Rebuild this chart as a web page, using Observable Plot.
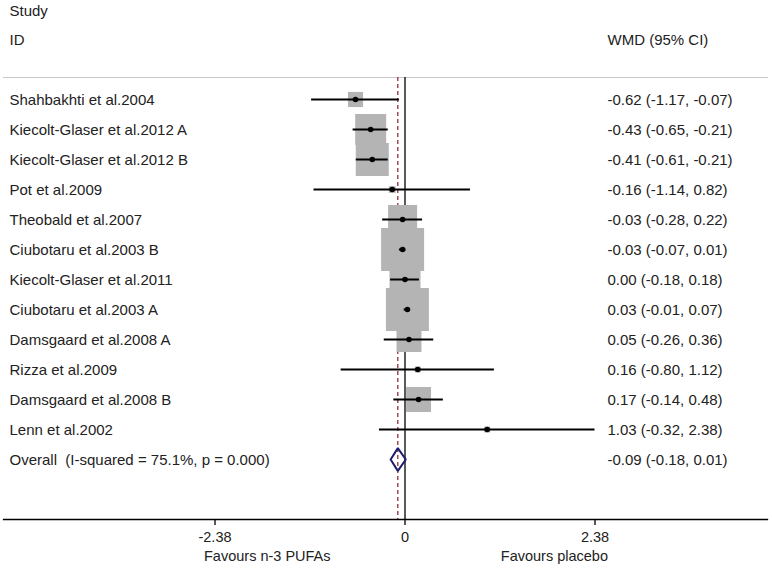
<!DOCTYPE html>
<html><head><meta charset="utf-8">
<script src="https://cdn.jsdelivr.net/npm/d3@7"></script>
<script src="https://cdn.jsdelivr.net/npm/@observablehq/plot@0.6"></script>
<style>
body{margin:0;background:#fff;font-family:"Liberation Sans",Arial,sans-serif}
#chart svg{display:block}
</style>
</head><body><div id="chart"></div>
<script>
const studies = [
  "Shahbakhti et al.2004",
  "Kiecolt-Glaser et al.2012 A",
  "Kiecolt-Glaser et al.2012 B",
  "Pot et al.2009",
  "Theobald et al.2007",
  "Ciubotaru et al.2003 B",
  "Kiecolt-Glaser et al.2011",
  "Ciubotaru et al.2003 A",
  "Damsgaard et al.2008 A",
  "Rizza et al.2009",
  "Damsgaard et al.2008 B",
  "Lenn et al.2002"
];
const wmd    = [-0.62, -0.43, -0.41, -0.16, -0.03, -0.03, 0.00, 0.03, 0.05, 0.16, 0.17, 1.03];
const lower  = [-1.17, -0.65, -0.61, -1.14, -0.28, -0.07, -0.18, -0.01, -0.26, -0.80, -0.14, -0.32];
const upper  = [-0.07, -0.21, -0.21, 0.82, 0.22, 0.01, 0.18, 0.07, 0.36, 1.12, 0.48, 2.38];
const weights = [2.5, 10.5, 11.9, 0.5, 9.2, 20.2, 10.5, 20.2, 6.8, 0.4, 6.8, 0.4];
const overallLabel = "Overall\u00a0\u00a0(I-squared = 75.1%, p = 0.000)";
const overallEst = -0.09, overallLower = -0.18, overallUpper = 0.01;
const xTicks = [-2.38, 0, 2.38];
const headerStudy = "Study", headerID = "ID", headerCI = "WMD (95% CI)";
const favourLeft = "Favours n-3 PUFAs", favourRight = "Favours placebo";

const f2 = v => v.toFixed(2);
const rows = studies.map((s, i) => ({
  row: i, study: s, est: wmd[i], lo: lower[i], hi: upper[i], w: weights[i],
  ci: `${f2(wmd[i])} (${f2(lower[i])}, ${f2(upper[i])})`
}));
const oRow = studies.length;
const labelRows = [...rows, {row: oRow, study: overallLabel,
  ci: `${f2(overallEst)} (${f2(overallLower)}, ${f2(overallUpper)})`}];
const dh = 0.38;
const diamond = [
  {x: overallLower, y: oRow}, {x: overallEst, y: oRow - dh},
  {x: overallUpper, y: oRow}, {x: overallEst, y: oRow + dh},
  {x: overallLower, y: oRow}
];
const FS = 15, AFS = 14.5;

const chart = Plot.plot({
  width: 772, height: 569,
  marginTop: 77, marginBottom: 50, marginLeft: 3, marginRight: 5,
  x: {domain: [-2.38, 2.38], range: [214.5, 594.5]},
  y: {type: "linear", domain: [0, oRow], range: [99, 459], axis: null},
  r: {type: "sqrt", domain: [0, 20.2], range: [0, 43 / Math.sqrt(Math.PI)]},
  style: {fontFamily: "'Liberation Sans', Arial, sans-serif", fontSize: "15px", color: "#222", background: "#fff"},
  marks: [
    Plot.frame({anchor: "top", stroke: "#c8c8c8", strokeWidth: 1.2}),
    Plot.ruleX([0], {stroke: "#000", strokeWidth: 1.3}),
    Plot.ruleX([overallEst], {stroke: "#8b1e2d", strokeDasharray: "4,3", strokeWidth: 1.2}),
    Plot.dot(rows, {x: "est", y: "row", r: "w", symbol: "square", fill: "#b4b4b4", stroke: null}),
    Plot.ruleY(rows, {y: "row", x1: "lo", x2: "hi", stroke: "#000", strokeWidth: 2}),
    Plot.dot(rows, {x: "est", y: "row", r: 2.8, fill: "#000", stroke: null}),
    Plot.line(diamond, {x: "x", y: "y", stroke: "#1c1c6e", strokeWidth: 2, strokeLinejoin: "miter"}),
    Plot.text(labelRows, {y: "row", text: "study", frameAnchor: "left", textAnchor: "start", dx: 6, dy: 1, fontSize: FS}),
    Plot.text(labelRows, {y: "row", text: "ci", frameAnchor: "left", textAnchor: "start", dx: 604, dy: 1, fontSize: FS}),
    Plot.text([headerStudy], {text: d => d, frameAnchor: "top-left", textAnchor: "start", lineAnchor: "middle", dx: 6, dy: -66, fontSize: FS}),
    Plot.text([headerID], {text: d => d, frameAnchor: "top-left", textAnchor: "start", lineAnchor: "middle", dx: 6, dy: -37, fontSize: FS}),
    Plot.text([headerCI], {text: d => d, frameAnchor: "top-left", textAnchor: "start", lineAnchor: "middle", dx: 604, dy: -37, fontSize: FS}),
    Plot.axisX({ticks: xTicks, tickFormat: d => d === 0 ? "0" : d.toFixed(2), tickSize: 6, tickPadding: 6, label: null, fontSize: AFS, strokeWidth: 1.5}),
    Plot.frame({anchor: "bottom", stroke: "#000", strokeWidth: 1.3}),
    Plot.text([{x: xTicks[0], t: favourLeft}], {x: "x", text: "t", frameAnchor: "bottom", lineAnchor: "middle", textAnchor: "start", dx: -11, dy: 37, fontSize: AFS}),
    Plot.text([{x: xTicks[2], t: favourRight}], {x: "x", text: "t", frameAnchor: "bottom", lineAnchor: "middle", textAnchor: "end", dx: 13, dy: 37, fontSize: AFS})
  ]
});
document.getElementById("chart").append(chart);
</script>
</body></html>
